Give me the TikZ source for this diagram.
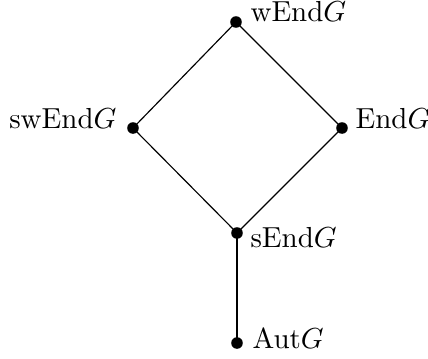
\documentclass[tikz,border=0pt]{standalone}
\begin{document}
\begin{tikzpicture}[x=0.345pt,y=-0.345pt,
  pt/.style={circle,fill=black,inner sep=0pt,minimum size=4pt},
  lab/.style={inner sep=0pt},
  edge/.style={line width=0.4pt},
  strong/.style={line width=1pt}]
\useasboundingbox (0,0) rectangle (428,358);
\node[pt] (w) at (236,22) {};
\node[pt] (sw) at (133,128) {};
\node[pt] (e) at (342,128) {};
\node[pt] (s) at (237,233) {};
\node[pt] (a) at (237,343) {};
\draw[edge] (w.center) -- (sw.center) -- (s.center) -- (e.center) -- (w.center);
\draw[strong] (s.center) -- (a.center);
\node[lab,anchor=base west] (lw) at (250,21) {wEnd$G$};
\node[lab,anchor=base east] (lsw) at (117,128) {swEnd$G$};
\node[lab,anchor=base west] (le) at (355,128) {End$G$};
\node[lab,anchor=base west] (ls) at (250,247) {sEnd$G$};
\node[lab,anchor=base west] (la) at (252,348) {Aut$G$};
\end{tikzpicture}
\end{document}
